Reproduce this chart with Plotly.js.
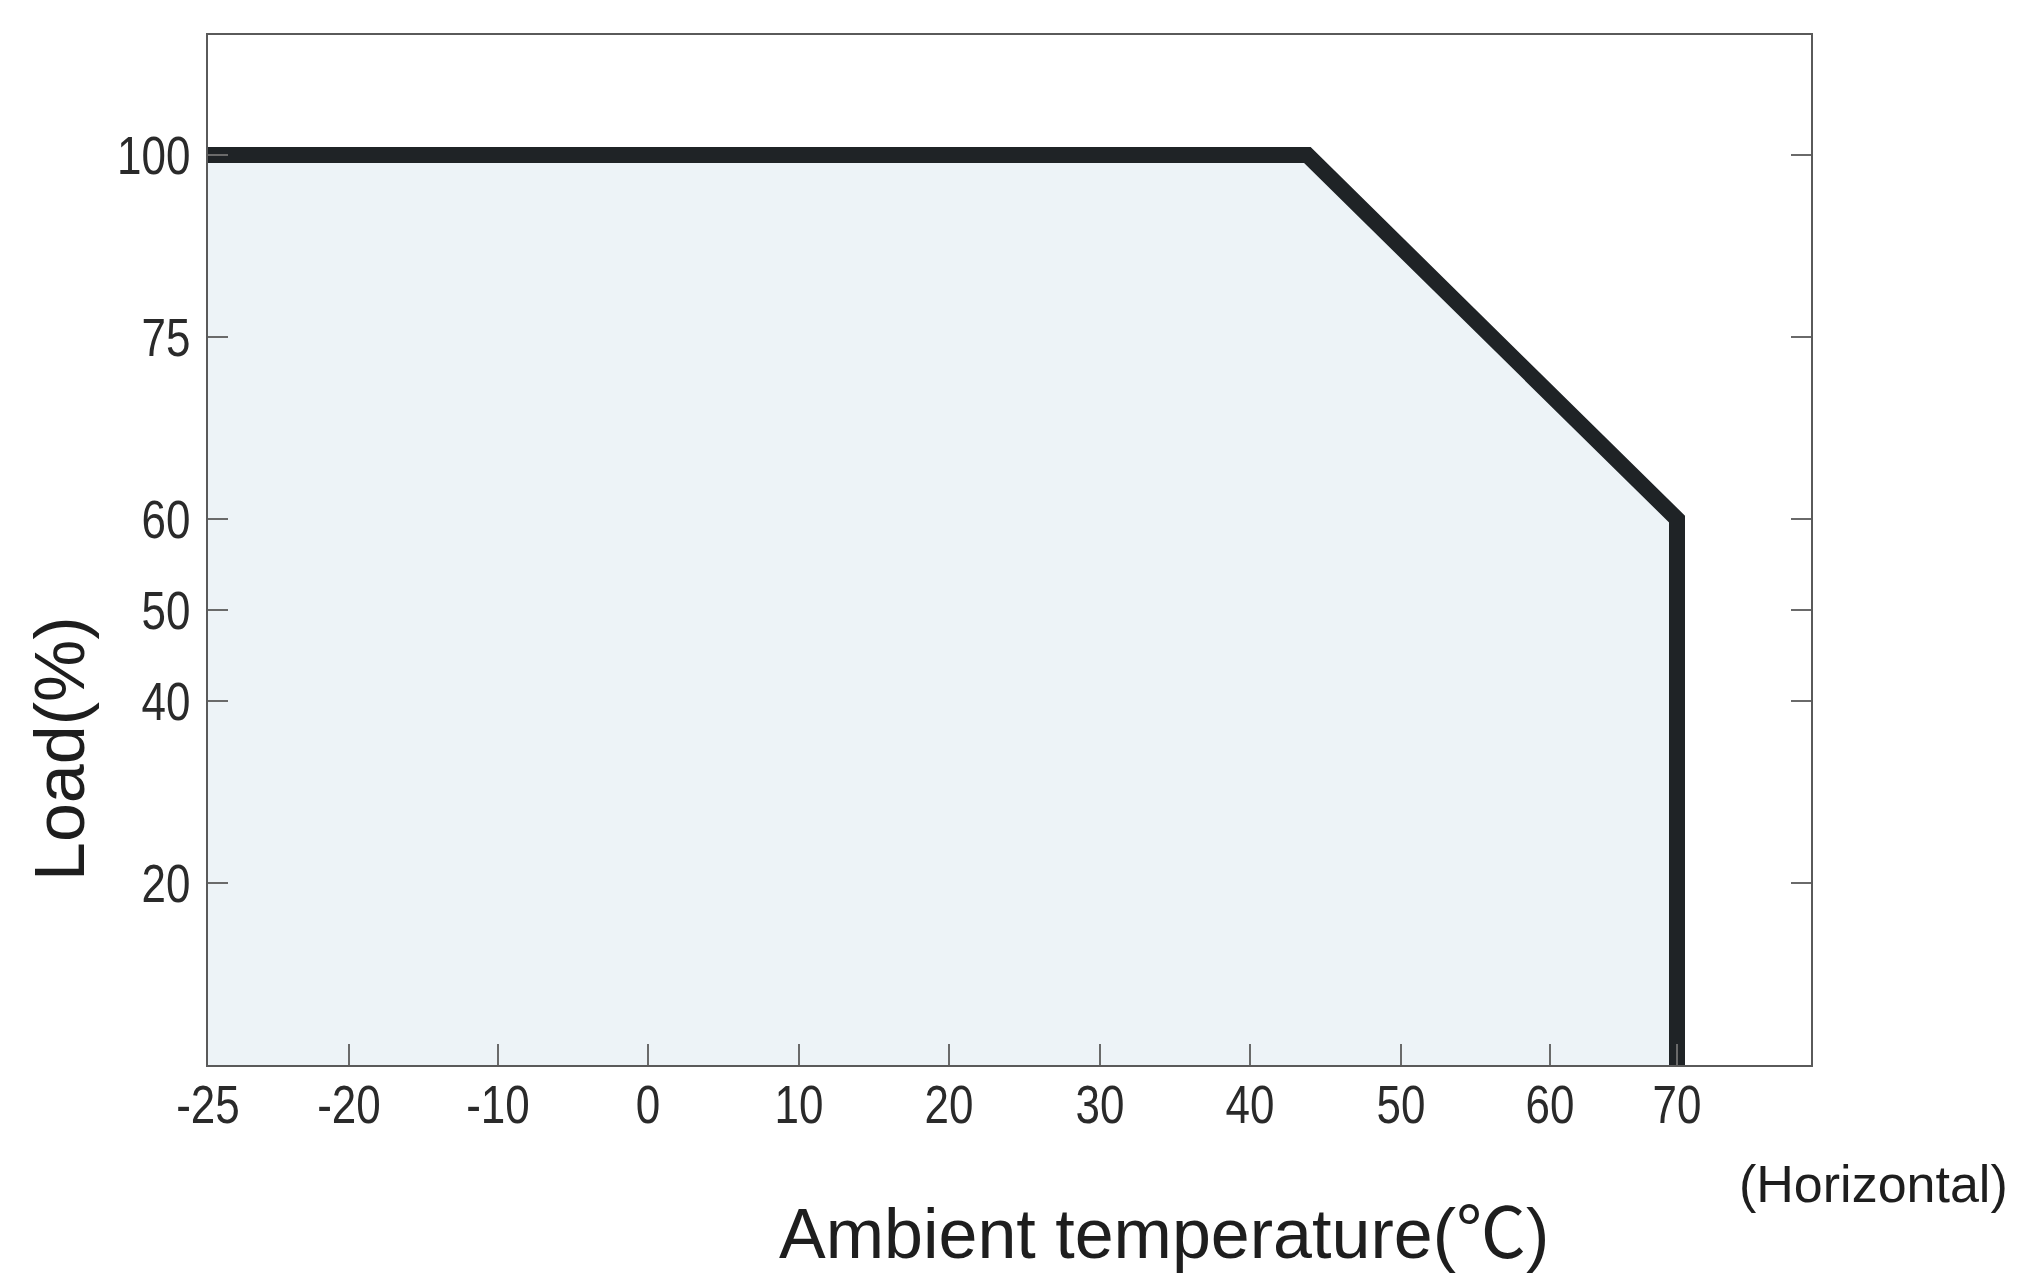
<!DOCTYPE html>
<html>
<head>
<meta charset="utf-8">
<script src="https://cdn.plot.ly/plotly-3.0.1.min.js"></script>
<style>
  html, body { margin: 0; padding: 0; background: #ffffff; }
  #chart { width: 2017px; height: 1274px; }
</style>
</head>
<body>
<div id="chart"></div>
<script>
// ---- data ----
const temperature = [-25, 43.8, 70, 70];    // °C
const load        = [100, 100, 60, 0];      // %

// ---- axis tick labels ----
const xTickValues = [-25, -20, -10, 0, 10, 20, 30, 40, 50, 60, 70];
const yTickValues = [20, 40, 50, 60, 75, 100];

// ---- schematic (non-uniform) axis scales of the drawing ----
const xScaleValues    = [-25, -20, -10, 0, 10, 20, 30, 40, 50, 60, 70];
const xScalePositions = [0, 141, 290, 440, 591, 741, 892, 1042, 1193, 1342, 1469];
const yScaleValues    = [0, 20, 40, 50, 60, 75, 100];
const yScalePositions = [0, 1, 2, 2.5, 3, 4, 5];

function interp(v, vals, pos) {
  for (let i = 0; i < vals.length - 1; i++) {
    if (v <= vals[i + 1]) {
      const t = (v - vals[i]) / (vals[i + 1] - vals[i]);
      return pos[i] + t * (pos[i + 1] - pos[i]);
    }
  }
  const n = vals.length - 1;
  return pos[n] + (v - vals[n]) * (pos[n] - pos[n - 1]) / (vals[n] - vals[n - 1]);
}
const xs = v => interp(v, xScaleValues, xScalePositions);
const ys = v => interp(v, yScaleValues, yScalePositions);

const tickFont = { family: '"Liberation Sans Narrow", "Liberation Sans", Arial, sans-serif', size: 53, color: '#2a2a2a' };
const titleFont = { family: '"Liberation Sans", Arial, "Noto Sans CJK SC", sans-serif', size: 70, color: '#1e1e1e' };

const trace = {
  type: 'scatter',
  mode: 'lines',
  x: temperature.map(xs),
  y: load.map(ys),
  line: { color: '#1f2326', width: 16, shape: 'linear' },
  fill: 'tozeroy',
  fillcolor: '#edf3f7',
  hoverinfo: 'skip',
  showlegend: false
};

const layout = {
  width: 2017,
  height: 1274,
  paper_bgcolor: '#ffffff',
  plot_bgcolor: '#ffffff',
  margin: { l: 208, r: 206, t: 35, b: 209, pad: 0 },
  showlegend: false,
  xaxis: {
    range: [0, 1603],
    tickvals: xTickValues.map(xs),
    ticktext: xTickValues.map(String),
    ticks: 'inside',
    ticklen: 21,
    tickwidth: 2,
    tickcolor: '#6a6a6a',
    showline: true,
    linecolor: '#5a5a5a',
    linewidth: 2,
    mirror: true,
    showgrid: false,
    zeroline: false,
    tickfont: tickFont,
    ticklabelstandoff: -8,
    fixedrange: true
  },
  yaxis: {
    range: [0, 5.66],
    tickvals: yTickValues.map(ys),
    ticktext: yTickValues.map(String),
    ticks: 'inside',
    ticklen: 20,
    tickwidth: 2,
    tickcolor: '#6a6a6a',
    showline: true,
    linecolor: '#5a5a5a',
    linewidth: 2,
    mirror: 'ticks',
    showgrid: false,
    zeroline: false,
    tickfont: tickFont,
    ticklabelstandoff: 5,
    fixedrange: true
  },
  annotations: [
    {
      text: 'Ambient temperature(℃)',
      xref: 'paper', yref: 'paper',
      x: (1164 - 208) / 1603, y: -(1234 - 1065) / 1030,
      xanchor: 'center', yanchor: 'middle',
      showarrow: false,
      font: titleFont
    },
    {
      text: 'Load(%)',
      xref: 'paper', yref: 'paper',
      x: -(208 - 60) / 1603, y: (1065 - 749) / 1030,
      xanchor: 'center', yanchor: 'middle',
      textangle: -90,
      showarrow: false,
      font: titleFont
    },
    {
      text: '(Horizontal)',
      xref: 'paper', yref: 'paper',
      x: (1873 - 208) / 1603, y: -(1184 - 1065) / 1030,
      xanchor: 'center', yanchor: 'middle',
      showarrow: false,
      font: { family: '"Liberation Sans", Arial, sans-serif', size: 52, color: '#1e1e1e' }
    }
  ]
};

Plotly.newPlot('chart', [trace], layout, { displayModeBar: false, staticPlot: true }).then(function () {
  // the drawing uses a condensed face for tick numbers: narrow the glyphs
  document.querySelectorAll('#chart .xtick text, #chart .ytick text').forEach(function (el) {
    const w = el.getComputedTextLength();
    el.setAttribute('textLength', (w * 0.83).toFixed(1));
    el.setAttribute('lengthAdjust', 'spacingAndGlyphs');
  });
});
</script>
</body>
</html>
